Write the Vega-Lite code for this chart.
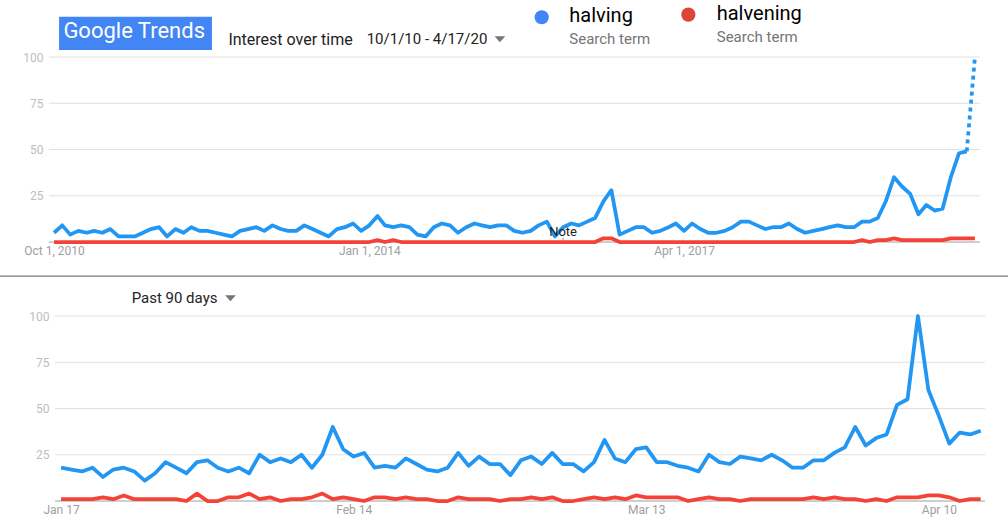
{
  "$schema": "https://vega.github.io/schema/vega-lite/v6.json",
  "width": 1008,
  "height": 530,
  "autosize": {"type": "none"},
  "padding": 0,
  "background": "white",
  "config": {"view": {"stroke": null}, "font": "Roboto"},
  "datasets": {
    "interest": [
      {"d":"2010-10-01","halving":5,"halvening":0},{"d":"2010-11-01","halving":9,"halvening":0},{"d":"2010-12-01","halving":4,"halvening":0},
      {"d":"2011-01-01","halving":6,"halvening":0},{"d":"2011-02-01","halving":5,"halvening":0},{"d":"2011-03-01","halving":6,"halvening":0},
      {"d":"2011-04-01","halving":5,"halvening":0},{"d":"2011-05-01","halving":7,"halvening":0},{"d":"2011-06-01","halving":3,"halvening":0},
      {"d":"2011-07-01","halving":3,"halvening":0},{"d":"2011-08-01","halving":3,"halvening":0},{"d":"2011-09-01","halving":5,"halvening":0},
      {"d":"2011-10-01","halving":7,"halvening":0},{"d":"2011-11-01","halving":8,"halvening":0},{"d":"2011-12-01","halving":3,"halvening":0},
      {"d":"2012-01-01","halving":7,"halvening":0},{"d":"2012-02-01","halving":5,"halvening":0},{"d":"2012-03-01","halving":8,"halvening":0},
      {"d":"2012-04-01","halving":6,"halvening":0},{"d":"2012-05-01","halving":6,"halvening":0},{"d":"2012-06-01","halving":5,"halvening":0},
      {"d":"2012-07-01","halving":4,"halvening":0},{"d":"2012-08-01","halving":3,"halvening":0},{"d":"2012-09-01","halving":6,"halvening":0},
      {"d":"2012-10-01","halving":7,"halvening":0},{"d":"2012-11-01","halving":8,"halvening":0},{"d":"2012-12-01","halving":6,"halvening":0},
      {"d":"2013-01-01","halving":9,"halvening":0},{"d":"2013-02-01","halving":7,"halvening":0},{"d":"2013-03-01","halving":6,"halvening":0},
      {"d":"2013-04-01","halving":6,"halvening":0},{"d":"2013-05-01","halving":9,"halvening":0},{"d":"2013-06-01","halving":7,"halvening":0},
      {"d":"2013-07-01","halving":5,"halvening":0},{"d":"2013-08-01","halving":3,"halvening":0},{"d":"2013-09-01","halving":7,"halvening":0},
      {"d":"2013-10-01","halving":8,"halvening":0},{"d":"2013-11-01","halving":10,"halvening":0},{"d":"2013-12-01","halving":6,"halvening":0},
      {"d":"2014-01-01","halving":9,"halvening":0},{"d":"2014-02-01","halving":14,"halvening":1},{"d":"2014-03-01","halving":9,"halvening":0},
      {"d":"2014-04-01","halving":8,"halvening":1},{"d":"2014-05-01","halving":9,"halvening":0},{"d":"2014-06-01","halving":8,"halvening":0},
      {"d":"2014-07-01","halving":4,"halvening":0},{"d":"2014-08-01","halving":3,"halvening":0},{"d":"2014-09-01","halving":8,"halvening":0},
      {"d":"2014-10-01","halving":10,"halvening":0},{"d":"2014-11-01","halving":9,"halvening":0},{"d":"2014-12-01","halving":5,"halvening":0},
      {"d":"2015-01-01","halving":8,"halvening":0},{"d":"2015-02-01","halving":10,"halvening":0},{"d":"2015-03-01","halving":9,"halvening":0},
      {"d":"2015-04-01","halving":8,"halvening":0},{"d":"2015-05-01","halving":9,"halvening":0},{"d":"2015-06-01","halving":9,"halvening":0},
      {"d":"2015-07-01","halving":6,"halvening":0},{"d":"2015-08-01","halving":5,"halvening":0},{"d":"2015-09-01","halving":6,"halvening":0},
      {"d":"2015-10-01","halving":9,"halvening":0},{"d":"2015-11-01","halving":11,"halvening":0},{"d":"2015-12-01","halving":3,"halvening":0},
      {"d":"2016-01-01","halving":8,"halvening":0},{"d":"2016-02-01","halving":10,"halvening":0},{"d":"2016-03-01","halving":9,"halvening":0},
      {"d":"2016-04-01","halving":11,"halvening":0},{"d":"2016-05-01","halving":13,"halvening":0},{"d":"2016-06-01","halving":22,"halvening":2},
      {"d":"2016-07-01","halving":28,"halvening":2},{"d":"2016-08-01","halving":4,"halvening":0},{"d":"2016-09-01","halving":6,"halvening":0},
      {"d":"2016-10-01","halving":8,"halvening":0},{"d":"2016-11-01","halving":8,"halvening":0},{"d":"2016-12-01","halving":5,"halvening":0},
      {"d":"2017-01-01","halving":6,"halvening":0},{"d":"2017-02-01","halving":8,"halvening":0},{"d":"2017-03-01","halving":10,"halvening":0},
      {"d":"2017-04-01","halving":6,"halvening":0},{"d":"2017-05-01","halving":10,"halvening":0},{"d":"2017-06-01","halving":7,"halvening":0},
      {"d":"2017-07-01","halving":5,"halvening":0},{"d":"2017-08-01","halving":5,"halvening":0},{"d":"2017-09-01","halving":6,"halvening":0},
      {"d":"2017-10-01","halving":8,"halvening":0},{"d":"2017-11-01","halving":11,"halvening":0},{"d":"2017-12-01","halving":11,"halvening":0},
      {"d":"2018-01-01","halving":9,"halvening":0},{"d":"2018-02-01","halving":7,"halvening":0},{"d":"2018-03-01","halving":8,"halvening":0},
      {"d":"2018-04-01","halving":8,"halvening":0},{"d":"2018-05-01","halving":10,"halvening":0},{"d":"2018-06-01","halving":7,"halvening":0},
      {"d":"2018-07-01","halving":5,"halvening":0},{"d":"2018-08-01","halving":6,"halvening":0},{"d":"2018-09-01","halving":7,"halvening":0},
      {"d":"2018-10-01","halving":8,"halvening":0},{"d":"2018-11-01","halving":9,"halvening":0},{"d":"2018-12-01","halving":8,"halvening":0},
      {"d":"2019-01-01","halving":8,"halvening":0},{"d":"2019-02-01","halving":11,"halvening":1},{"d":"2019-03-01","halving":11,"halvening":0},
      {"d":"2019-04-01","halving":13,"halvening":1},{"d":"2019-05-01","halving":22,"halvening":1},{"d":"2019-06-01","halving":35,"halvening":2},
      {"d":"2019-07-01","halving":30,"halvening":1},{"d":"2019-08-01","halving":26,"halvening":1},{"d":"2019-09-01","halving":15,"halvening":1},
      {"d":"2019-10-01","halving":20,"halvening":1},{"d":"2019-11-01","halving":17,"halvening":1},{"d":"2019-12-01","halving":18,"halvening":1},
      {"d":"2020-01-01","halving":35,"halvening":2},{"d":"2020-02-01","halving":48,"halvening":2},{"d":"2020-03-01","halving":49,"halvening":2},
      {"d":"2020-04-01","halving":100,"halvening":2}
    ],
    "past90": [
      {"d":"2020-01-17","halving":18,"halvening":1},{"d":"2020-01-18","halving":17,"halvening":1},{"d":"2020-01-19","halving":16,"halvening":1},
      {"d":"2020-01-20","halving":18,"halvening":1},{"d":"2020-01-21","halving":13,"halvening":2},{"d":"2020-01-22","halving":17,"halvening":1},
      {"d":"2020-01-23","halving":18,"halvening":3},{"d":"2020-01-24","halving":16,"halvening":1},{"d":"2020-01-25","halving":11,"halvening":1},
      {"d":"2020-01-26","halving":15,"halvening":1},{"d":"2020-01-27","halving":21,"halvening":1},{"d":"2020-01-28","halving":18,"halvening":1},
      {"d":"2020-01-29","halving":15,"halvening":0},{"d":"2020-01-30","halving":21,"halvening":4},{"d":"2020-01-31","halving":22,"halvening":0},
      {"d":"2020-02-01","halving":18,"halvening":0},{"d":"2020-02-02","halving":16,"halvening":2},{"d":"2020-02-03","halving":18,"halvening":2},
      {"d":"2020-02-04","halving":15,"halvening":4},{"d":"2020-02-05","halving":25,"halvening":1},{"d":"2020-02-06","halving":21,"halvening":2},
      {"d":"2020-02-07","halving":23,"halvening":0},{"d":"2020-02-08","halving":21,"halvening":1},{"d":"2020-02-09","halving":25,"halvening":1},
      {"d":"2020-02-10","halving":18,"halvening":2},{"d":"2020-02-11","halving":25,"halvening":4},{"d":"2020-02-12","halving":40,"halvening":1},
      {"d":"2020-02-13","halving":28,"halvening":2},{"d":"2020-02-14","halving":24,"halvening":1},{"d":"2020-02-15","halving":26,"halvening":0},
      {"d":"2020-02-16","halving":18,"halvening":2},{"d":"2020-02-17","halving":19,"halvening":2},{"d":"2020-02-18","halving":18,"halvening":1},
      {"d":"2020-02-19","halving":23,"halvening":2},{"d":"2020-02-20","halving":20,"halvening":1},{"d":"2020-02-21","halving":17,"halvening":1},
      {"d":"2020-02-22","halving":16,"halvening":0},{"d":"2020-02-23","halving":18,"halvening":0},{"d":"2020-02-24","halving":26,"halvening":2},
      {"d":"2020-02-25","halving":19,"halvening":1},{"d":"2020-02-26","halving":24,"halvening":1},{"d":"2020-02-27","halving":20,"halvening":1},
      {"d":"2020-02-28","halving":20,"halvening":0},{"d":"2020-02-29","halving":14,"halvening":1},{"d":"2020-03-01","halving":22,"halvening":1},
      {"d":"2020-03-02","halving":24,"halvening":2},{"d":"2020-03-03","halving":20,"halvening":1},{"d":"2020-03-04","halving":26,"halvening":2},
      {"d":"2020-03-05","halving":20,"halvening":0},{"d":"2020-03-06","halving":20,"halvening":0},{"d":"2020-03-07","halving":16,"halvening":1},
      {"d":"2020-03-08","halving":21,"halvening":2},{"d":"2020-03-09","halving":33,"halvening":1},{"d":"2020-03-10","halving":23,"halvening":2},
      {"d":"2020-03-11","halving":21,"halvening":1},{"d":"2020-03-12","halving":28,"halvening":3},{"d":"2020-03-13","halving":29,"halvening":2},
      {"d":"2020-03-14","halving":21,"halvening":2},{"d":"2020-03-15","halving":21,"halvening":2},{"d":"2020-03-16","halving":19,"halvening":2},
      {"d":"2020-03-17","halving":18,"halvening":0},{"d":"2020-03-18","halving":16,"halvening":1},{"d":"2020-03-19","halving":25,"halvening":2},
      {"d":"2020-03-20","halving":21,"halvening":1},{"d":"2020-03-21","halving":20,"halvening":1},{"d":"2020-03-22","halving":24,"halvening":0},
      {"d":"2020-03-23","halving":23,"halvening":1},{"d":"2020-03-24","halving":22,"halvening":1},{"d":"2020-03-25","halving":25,"halvening":1},
      {"d":"2020-03-26","halving":22,"halvening":1},{"d":"2020-03-27","halving":18,"halvening":1},{"d":"2020-03-28","halving":18,"halvening":1},
      {"d":"2020-03-29","halving":22,"halvening":2},{"d":"2020-03-30","halving":22,"halvening":1},{"d":"2020-03-31","halving":26,"halvening":2},
      {"d":"2020-04-01","halving":29,"halvening":1},{"d":"2020-04-02","halving":40,"halvening":1},{"d":"2020-04-03","halving":30,"halvening":0},
      {"d":"2020-04-04","halving":34,"halvening":1},{"d":"2020-04-05","halving":36,"halvening":0},{"d":"2020-04-06","halving":52,"halvening":2},
      {"d":"2020-04-07","halving":55,"halvening":2},{"d":"2020-04-08","halving":100,"halvening":2},{"d":"2020-04-09","halving":60,"halvening":3},
      {"d":"2020-04-10","halving":46,"halvening":3},{"d":"2020-04-11","halving":31,"halvening":2},{"d":"2020-04-12","halving":37,"halvening":0},
      {"d":"2020-04-13","halving":36,"halvening":1},{"d":"2020-04-14","halving":38,"halvening":1}
    ]
  },
  "layer": [
    {
      "layer": [
        {
          "data": {"values": [{"g": 25}, {"g": 50}, {"g": 75}, {"g": 100}]},
          "mark": {"type": "rule", "stroke": "#e0e0e0", "strokeWidth": 1},
          "encoding": {
            "x": {"datum": {"year": 2010, "month": 9, "date": 12, "utc": true}, "type": "temporal"},
            "x2": {"datum": {"year": 2020, "month": 4, "date": 20, "utc": true}},
            "y": {"field": "g", "type": "quantitative",
              "scale": {"domain": [0, 100], "range": [242, 57], "nice": false, "zero": true},
              "axis": {"orient": "left", "offset": -49, "values": [25, 50, 75, 100], "grid": false, "ticks": false, "tickSize": 0, "domain": false, "labelPadding": 6, "labelFontSize": 12, "labelColor": "#bdbdbd", "title": null}}
          }
        },
        {
          "data": {"values": [{}]},
          "mark": {"type": "rule", "stroke": "#9e9e9e", "strokeWidth": 1},
          "encoding": {
            "x": {"datum": {"year": 2010, "month": 9, "date": 12, "utc": true}, "type": "temporal"},
            "x2": {"datum": {"year": 2020, "month": 4, "date": 20, "utc": true}},
            "y": {"datum": 0, "type": "quantitative"}
          }
        },
        {
          "data": {"values": [{}]},
          "mark": {"type": "rule", "stroke": "#7a7a7a", "strokeWidth": 1.2},
          "encoding": {
            "x": {"datum": {"year": 2010, "month": 3, "date": 1, "utc": true}, "type": "temporal"},
            "x2": {"datum": {"year": 2020, "month": 9, "date": 1, "utc": true}},
            "y": {"datum": -18.4, "type": "quantitative"}
          }
        },
        {
          "data": {"values": [{}]},
          "mark": {"type": "rule", "stroke": "#9e9e9e", "strokeWidth": 1},
          "encoding": {
            "x": {"datum": {"year": 2016, "month": 1, "date": 1, "utc": true}, "type": "temporal"},
            "y": {"datum": 0, "type": "quantitative"},
            "y2": {"datum": 2.3}
          }
        },
        {
          "data": {"name": "interest"},
          "transform": [
            {"fold": ["halving", "halvening"], "as": ["term", "v"]},
            {"filter": "datum.term === 'halvening' || toDate(datum.d) < toDate('2020-04-01')"}
          ],
          "mark": {"type": "line", "strokeWidth": 3.75, "strokeJoin": "round"},
          "encoding": {
            "x": {"field": "d", "type": "temporal",
              "scale": {"type": "utc", "domain": [{"year": 2010, "month": 9, "date": 12, "utc": true}, {"year": 2020, "month": 4, "date": 20, "utc": true}], "range": [49, 980], "nice": false},
              "axis": {"orient": "bottom", "offset": -288, "values": [{"year": 2010, "month": 10, "date": 1, "utc": true}, {"year": 2014, "month": 1, "date": 1, "utc": true}, {"year": 2017, "month": 4, "date": 1, "utc": true}],
                "labelExpr": "utcFormat(datum.value, '%b %-d, %Y')", "grid": false, "ticks": false, "tickSize": 0, "domain": false, "labelPadding": 3, "labelFontSize": 12, "labelColor": "#9e9e9e", "labelFlush": false, "labelOverlap": false, "labelBound": false, "title": null}},
            "y": {"field": "v", "type": "quantitative"},
            "color": {"field": "term", "type": "nominal", "scale": {"domain": ["halving", "halvening"], "range": ["#2196f3", "#f44336"]}, "legend": null}
          }
        },
        {
          "data": {"name": "interest"},
          "transform": [
            {"fold": ["halving", "halvening"], "as": ["term", "v"]},
            {"filter": "datum.term === 'halving' && toDate(datum.d) >= toDate('2020-03-01')"}
          ],
          "mark": {"type": "line", "strokeWidth": 3.75, "stroke": "#2196f3", "strokeDash": [4, 4], "strokeCap": "butt"},
          "encoding": {
            "x": {"field": "d", "type": "temporal"},
            "y": {"field": "v", "type": "quantitative"}
          }
        },
        {
          "data": {"values": [{}]},
          "mark": {"type": "text", "text": "Note", "fontSize": 13, "fill": "#222222", "align": "center", "baseline": "alphabetic"},
          "encoding": {
            "x": {"datum": {"year": 2016, "month": 1, "date": 1, "utc": true}, "type": "temporal"},
            "y": {"datum": 3.4, "type": "quantitative"}
          }
        },
        {
          "data": {"values": [{}]},
          "mark": {"type": "rect", "fill": "#4285f4"},
          "encoding": {
            "x": {"datum": {"year": 2010, "month": 10, "date": 20, "utc": true}, "type": "temporal"},
            "x2": {"datum": {"year": 2012, "month": 5, "date": 18, "utc": true}},
            "y": {"datum": 121.8, "type": "quantitative"},
            "y2": {"datum": 103.8}
          }
        },
        {
          "data": {"values": [{}]},
          "mark": {"type": "text", "text": "Google Trends", "fontSize": 22, "fill": "white", "align": "center", "baseline": "alphabetic"},
          "encoding": {
            "x": {"datum": {"year": 2011, "month": 7, "date": 30, "utc": true}, "type": "temporal"},
            "y": {"datum": 110.4, "type": "quantitative"}
          }
        },
        {
          "data": {"values": [{}]},
          "mark": {"type": "text", "text": "Interest over time", "fontSize": 16, "fill": "#222222", "align": "left", "baseline": "alphabetic"},
          "encoding": {
            "x": {"datum": {"year": 2012, "month": 7, "date": 19, "utc": true}, "type": "temporal"},
            "y": {"datum": 106.3, "type": "quantitative"}
          }
        },
        {
          "data": {"values": [{}]},
          "mark": {"type": "text", "text": "10/1/10 - 4/17/20", "fontSize": 15, "fill": "#222222", "align": "left", "baseline": "alphabetic"},
          "encoding": {
            "x": {"datum": {"year": 2013, "month": 12, "date": 22, "utc": true}, "type": "temporal"},
            "y": {"datum": 107.2, "type": "quantitative"}
          }
        },
        {
          "data": {"values": [{}]},
          "mark": {"type": "point", "shape": "M-1,-0.55L1,-0.55L0,0.55Z", "size": 114, "filled": true, "fill": "#757575", "opacity": 1, "strokeWidth": 0},
          "encoding": {
            "x": {"datum": {"year": 2015, "month": 5, "date": 8, "utc": true}, "type": "temporal"},
            "y": {"datum": 109.6, "type": "quantitative"}
          }
        },
        {
          "data": {"values": [{}]},
          "mark": {"type": "point", "shape": "circle", "size": 201, "filled": true, "fill": "#4285f4", "opacity": 1, "strokeWidth": 0},
          "encoding": {
            "x": {"datum": {"year": 2015, "month": 10, "date": 12, "hours": 12, "utc": true}, "type": "temporal"},
            "y": {"datum": 121.5, "type": "quantitative"}
          }
        },
        {
          "data": {"values": [{}]},
          "mark": {"type": "text", "text": "halving", "fontSize": 20, "fill": "#000000", "align": "left", "baseline": "alphabetic"},
          "encoding": {
            "x": {"datum": {"year": 2016, "month": 1, "date": 24, "hours": 12, "utc": true}, "type": "temporal"},
            "y": {"datum": 118.8, "type": "quantitative"}
          }
        },
        {
          "data": {"values": [{}]},
          "mark": {"type": "text", "text": "Search term", "fontSize": 15, "fill": "#757575", "align": "left", "baseline": "alphabetic"},
          "encoding": {
            "x": {"datum": {"year": 2016, "month": 1, "date": 24, "hours": 12, "utc": true}, "type": "temporal"},
            "y": {"datum": 106.9, "type": "quantitative"}
          }
        },
        {
          "data": {"values": [{}]},
          "mark": {"type": "point", "shape": "circle", "size": 201, "filled": true, "fill": "#db4437", "opacity": 1, "strokeWidth": 0},
          "encoding": {
            "x": {"datum": {"year": 2017, "month": 4, "date": 17, "utc": true}, "type": "temporal"},
            "y": {"datum": 122.9, "type": "quantitative"}
          }
        },
        {
          "data": {"values": [{}]},
          "mark": {"type": "text", "text": "halvening", "fontSize": 20, "fill": "#000000", "align": "left", "baseline": "alphabetic"},
          "encoding": {
            "x": {"datum": {"year": 2017, "month": 8, "date": 2, "utc": true}, "type": "temporal"},
            "y": {"datum": 120, "type": "quantitative"}
          }
        },
        {
          "data": {"values": [{}]},
          "mark": {"type": "text", "text": "Search term", "fontSize": 15, "fill": "#757575", "align": "left", "baseline": "alphabetic"},
          "encoding": {
            "x": {"datum": {"year": 2017, "month": 8, "date": 2, "utc": true}, "type": "temporal"},
            "y": {"datum": 108.3, "type": "quantitative"}
          }
        }
      ]
    },
    {
      "layer": [
        {
          "data": {"values": [{"g": 25}, {"g": 50}, {"g": 75}, {"g": 100}]},
          "mark": {"type": "rule", "stroke": "#e0e0e0", "strokeWidth": 1},
          "encoding": {
            "x": {"datum": {"year": 2020, "month": 1, "date": 16, "hours": 10, "utc": true}, "type": "temporal"},
            "x2": {"datum": {"year": 2020, "month": 4, "date": 14, "hours": 10, "utc": true}},
            "y": {"field": "g", "type": "quantitative",
              "scale": {"domain": [0, 100], "range": [501, 316], "nice": false, "zero": true},
              "axis": {"orient": "left", "offset": -55, "values": [25, 50, 75, 100], "grid": false, "ticks": false, "tickSize": 0, "domain": false, "labelPadding": 6, "labelFontSize": 12, "labelColor": "#bdbdbd", "title": null}}
          }
        },
        {
          "data": {"values": [{}]},
          "mark": {"type": "rule", "stroke": "#9e9e9e", "strokeWidth": 1},
          "encoding": {
            "x": {"datum": {"year": 2020, "month": 1, "date": 16, "hours": 10, "utc": true}, "type": "temporal"},
            "x2": {"datum": {"year": 2020, "month": 4, "date": 14, "hours": 10, "utc": true}},
            "y": {"datum": 0, "type": "quantitative"}
          }
        },
        {
          "data": {"name": "past90"},
          "transform": [{"fold": ["halving", "halvening"], "as": ["term", "v"]}],
          "mark": {"type": "line", "strokeWidth": 3.75, "strokeJoin": "round"},
          "encoding": {
            "x": {"field": "d", "type": "temporal",
              "scale": {"type": "utc", "domain": [{"year": 2020, "month": 1, "date": 16, "hours": 10, "utc": true}, {"year": 2020, "month": 4, "date": 14, "hours": 10, "utc": true}], "range": [55, 985], "nice": false},
              "axis": {"orient": "bottom", "offset": -29, "values": [{"year": 2020, "month": 1, "date": 17, "utc": true}, {"year": 2020, "month": 2, "date": 14, "utc": true}, {"year": 2020, "month": 3, "date": 13, "utc": true}, {"year": 2020, "month": 4, "date": 10, "utc": true}],
                "labelExpr": "utcFormat(datum.value, '%b %-d')", "grid": false, "ticks": false, "tickSize": 0, "domain": false, "labelPadding": 3, "labelFontSize": 12, "labelColor": "#9e9e9e", "labelFlush": false, "labelOverlap": false, "labelBound": false, "title": null}},
            "y": {"field": "v", "type": "quantitative"},
            "color": {"field": "term", "type": "nominal", "scale": {"domain": ["halving", "halvening"], "range": ["#2196f3", "#f44336"]}, "legend": null}
          }
        },
        {
          "data": {"values": [{}]},
          "mark": {"type": "text", "text": "Past 90 days", "fontSize": 15, "fill": "#222222", "align": "left", "baseline": "alphabetic"},
          "encoding": {
            "x": {"datum": {"year": 2020, "month": 1, "date": 23, "hours": 18, "utc": true}, "type": "temporal"},
            "y": {"datum": 107.2, "type": "quantitative"}
          }
        },
        {
          "data": {"values": [{}]},
          "mark": {"type": "point", "shape": "M-1,-0.55L1,-0.55L0,0.55Z", "size": 114, "filled": true, "fill": "#757575", "opacity": 1, "strokeWidth": 0},
          "encoding": {
            "x": {"datum": {"year": 2020, "month": 2, "date": 2, "hours": 5, "utc": true}, "type": "temporal"},
            "y": {"datum": 109.6, "type": "quantitative"}
          }
        }
      ]
    }
  ],
  "resolve": {
    "scale": {"x": "independent", "y": "independent"},
    "axis": {"x": "independent", "y": "independent"}
  }
}
